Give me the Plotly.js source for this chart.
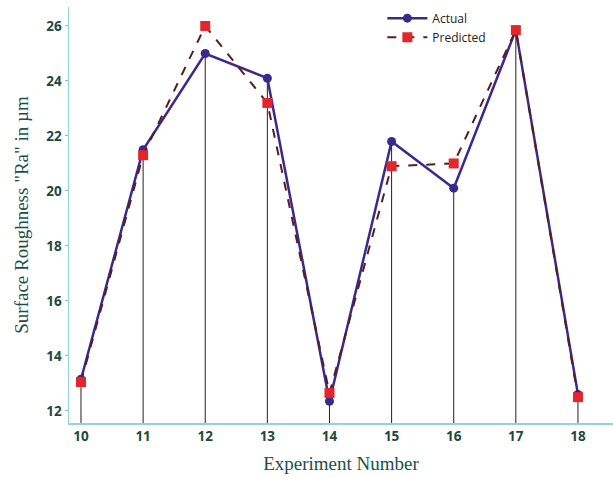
<!DOCTYPE html>
<html>
<head>
<meta charset="utf-8">
<script src="https://cdn.plot.ly/plotly-3.0.1.min.js"></script>
<style>
  html, body { margin: 0; padding: 0; background: #ffffff; }
  #chart { width: 613px; height: 477px; }
</style>
</head>
<body>
<div id="chart"></div>
<script>
// Experiment numbers and surface roughness Ra (µm)
const experiments = [10, 11, 12, 13, 14, 15, 16, 17, 18];
const actualRa    = [13.15, 21.5, 25.0, 24.1, 12.35, 21.8, 20.1, 25.85, 12.6];
const predictedRa = [13.05, 21.3, 26.0, 23.2, 12.65, 20.9, 21.0, 25.85, 12.5];
const yTicks = [12, 14, 16, 18, 20, 22, 24, 26];

const yFloor = 11.56;
const yRange = [yFloor, 26.69];
const xRange = [9.807, 18.564];

// drop lines from each actual point down to the axis
const dropMinus = actualRa.map(v => v - yFloor);

const actual = {
  x: experiments,
  y: actualRa,
  name: 'Actual',
  type: 'scatter',
  mode: 'lines+markers',
  line: { color: '#3a2a8e', width: 2.5 },
  marker: { symbol: 'circle', size: 9, color: '#3a2a8e' },
  error_y: {
    type: 'data', symmetric: false,
    array: experiments.map(() => 0),
    arrayminus: dropMinus,
    color: '#222222', thickness: 1, width: 0
  }
};

const predicted = {
  x: experiments,
  y: predictedRa,
  name: 'Predicted',
  type: 'scatter',
  mode: 'lines+markers',
  line: { color: '#5a1c1c', width: 2, dash: 'dash' },
  marker: { symbol: 'square', size: 10, color: '#e3262b' }
};

const layout = {
  width: 613,
  height: 477,
  margin: { l: 69, r: 0, t: 7, b: 54 },
  paper_bgcolor: '#ffffff',
  plot_bgcolor: '#ffffff',
  showlegend: true,
  legend: {
    x: 0.576, y: 1.008, xanchor: 'left', yanchor: 'top',
    bgcolor: 'rgba(0,0,0,0)',
    itemwidth: 40,
    font: { family: 'Open Sans, sans-serif', size: 12, color: '#222222' },
    tracegroupgap: 0
  },
  xaxis: {
    range: xRange,
    tickvals: experiments,
    ticktext: experiments.map(String),
    showgrid: false,
    zeroline: false,
    showline: true,
    linecolor: '#8fd3e8',
    linewidth: 1.5,
    ticks: '',
    tickfont: { family: 'Open Sans, sans-serif', size: 13.5, color: '#1d4a3c', weight: 700 },
    title: {
      text: 'Experiment Number',
      font: { family: 'Liberation Serif, serif', size: 19, color: '#1d4f4a' },
      standoff: 13
    }
  },
  yaxis: {
    range: yRange,
    tickvals: yTicks,
    ticktext: yTicks.map(String),
    showgrid: false,
    zeroline: false,
    showline: true,
    linecolor: '#8fd3e8',
    linewidth: 1.5,
    ticks: 'outside',
    ticklen: 3,
    tickcolor: '#8fb8c4',
    tickfont: { family: 'Open Sans, sans-serif', size: 13.5, color: '#1d4a3c', weight: 700 },
    title: {
      text: 'Surface Roughness "Ra" in µm',
      font: { family: 'Liberation Serif, serif', size: 19, color: '#1d4f4a' },
      standoff: 12
    }
  }
};

Plotly.newPlot('chart', [actual, predicted], layout, { displayModeBar: false, staticPlot: true });
</script>
</body>
</html>
